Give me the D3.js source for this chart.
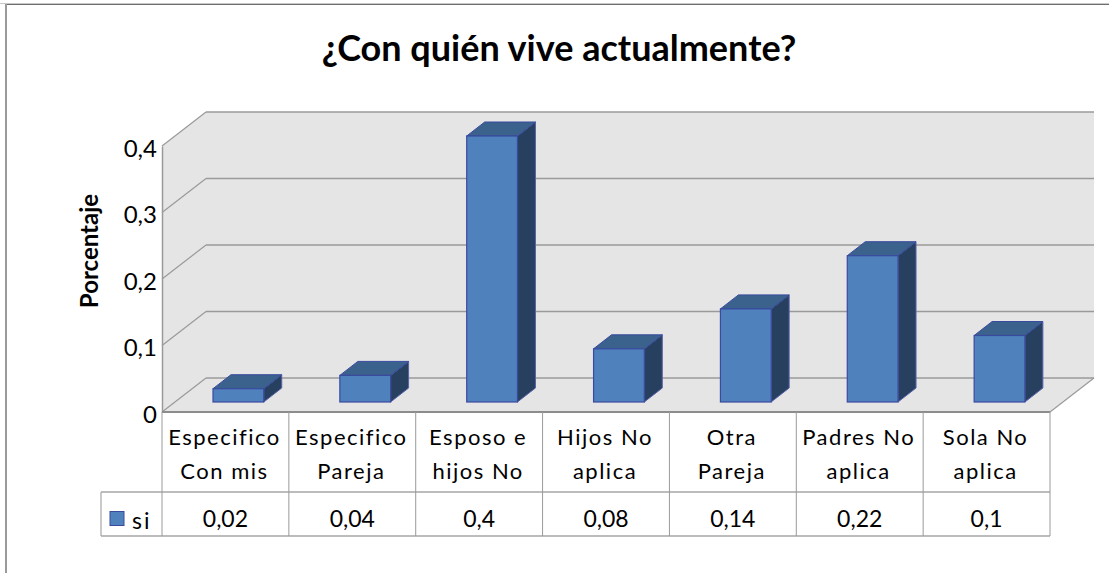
<!DOCTYPE html>
<html>
<head>
<meta charset="utf-8">
<script src="https://cdn.jsdelivr.net/npm/d3@7"></script>
<style>
html, body { margin: 0; padding: 0; background: #fff; }
svg { display: block; }
text { font-family: Lato, "Open Sans", sans-serif; fill: #000; }
</style>
</head>
<body>
<svg></svg>
<script>
var categories = [
    ["Especifico", "Con mis"],
    ["Especifico", "Pareja"],
    ["Esposo e", "hijos No"],
    ["Hijos No", "aplica"],
    ["Otra", "Pareja"],
    ["Padres No", "aplica"],
    ["Sola No", "aplica"]
];
var values = [0.02, 0.04, 0.4, 0.08, 0.14, 0.22, 0.1];
var yTicks = [0, 0.1, 0.2, 0.3, 0.4];
var seriesName = "si";
var chartTitle = "¿Con quién vive actualmente?";
var yTitle = "Porcentaje";

window.onload = function() {
    var width = 1109,
        height = 573;

    var svg = d3.select("svg")
        .attr("width", width)
        .attr("height", height);

    function comma(v) { return String(v).replace(".", ","); }

    // front edge of the floor, the back wall is this moved by wallDx/wallDy
    var x = d3.scaleBand().domain(d3.range(categories.length)).range([162, 1050]);
    var y = d3.scaleLinear().domain([0, 0.4]).range([412, 146]);
    var wallDx = 44, wallDy = -34;
    var barDx = 18, barDy = -14, barLift = 10;
    var barW = x.bandwidth() * 0.4, barOff = x.bandwidth() * 0.402;
    var grid = "#9a9a9a", tableLine = "#a6a6a6";

    function pts(a) { return a.map(function(p) { return p.join(","); }).join(" "); }

    // chart frame
    svg.append("rect").attr("x", 0).attr("y", 3).attr("width", width).attr("height", 1).attr("fill", "#c8c8c8");
    svg.append("rect").attr("x", 5).attr("y", 4).attr("width", width - 5).attr("height", 1).attr("fill", "#6e6e6e");
    svg.append("rect").attr("x", 5).attr("y", 4).attr("width", 2).attr("height", height).attr("fill", "#9a9a9a");

    svg.append("text")
        .attr("x", 559).attr("y", 61)
        .attr("text-anchor", "middle")
        .style("font-size", "36px").style("font-weight", "bold")
        .text(chartTitle);

    // walls and floor
    var x0 = x.range()[0], x1 = x.range()[1], y0 = y(0), yTop = y(0.4);
    svg.append("polygon").attr("fill", "#e5e5e5")
        .attr("points", pts([[x0, yTop], [x0 + wallDx, yTop + wallDy], [x1 + wallDx, yTop + wallDy], [x1 + wallDx, y0 + wallDy], [x1, y0], [x0, y0]]));

    svg.selectAll(".grid-back").data(yTicks).enter().append("line")
        .attr("x1", x0 + wallDx).attr("x2", x1 + wallDx)
        .attr("y1", function(d) { return y(d) + wallDy; })
        .attr("y2", function(d) { return y(d) + wallDy; })
        .attr("stroke", grid).attr("stroke-width", 1.5);
    svg.selectAll(".grid-side").data(yTicks).enter().append("line")
        .attr("x1", x0).attr("x2", x0 + wallDx)
        .attr("y1", function(d) { return y(d); })
        .attr("y2", function(d) { return y(d) + wallDy; })
        .attr("stroke", grid).attr("stroke-width", 1.2);
    svg.append("line")
        .attr("x1", x1).attr("y1", y0).attr("x2", x1 + wallDx).attr("y2", y0 + wallDy)
        .attr("stroke", grid).attr("stroke-width", 1.2);

    // y axis
    var axis = svg.append("g")
        .attr("transform", "translate(" + x0 + ",0)")
        .call(d3.axisLeft(y).tickValues(yTicks).tickFormat(comma).tickSize(0).tickPadding(5));
    axis.select(".domain").attr("stroke", grid).attr("stroke-width", 1.5);
    axis.selectAll("text")
        .attr("dy", "0.42em")
        .style("font-size", "24px")
        .style("font-family", "Lato, sans-serif");

    svg.append("text")
        .attr("transform", "translate(98,251) rotate(-90)")
        .attr("text-anchor", "middle")
        .style("font-size", "24px").style("font-weight", "bold")
        .text(yTitle);

    // bars
    var bars = svg.selectAll(".bar").data(values).enter().append("g").attr("class", "bar");
    var barStroke = "#3a4a9f";
    bars.append("polygon").attr("fill", "#274060").attr("stroke", "#5a62ad").attr("stroke-width", 1)
        .attr("points", function(d, i) {
            var l = x(i) + barOff + barW, t = y(d) - barLift, b = y(0) - barLift;
            return pts([[l, t], [l + barDx, t + barDy], [l + barDx, b + barDy], [l, b]]);
        });
    bars.append("polygon").attr("fill", "#3b618d").attr("stroke", barStroke).attr("stroke-width", 1)
        .attr("points", function(d, i) {
            var l = x(i) + barOff, t = y(d) - barLift;
            return pts([[l, t], [l + barDx, t + barDy], [l + barW + barDx, t + barDy], [l + barW, t]]);
        });
    bars.append("rect").attr("fill", "#4f81bd").attr("stroke", barStroke).attr("stroke-width", 1.2)
        .attr("x", function(d, i) { return x(i) + barOff; })
        .attr("y", function(d) { return y(d) - barLift; })
        .attr("width", barW)
        .attr("height", function(d) { return y(0) - y(d); });

    // data table
    var rowTop = 492, rowBottom = 536, legendLeft = 101;
    svg.append("line").attr("x1", x0).attr("x2", x1).attr("y1", y0).attr("y2", y0)
        .attr("stroke", "#8c8c8c").attr("stroke-width", 2);
    [rowTop, rowBottom].forEach(function(r) {
        svg.append("line").attr("x1", legendLeft).attr("x2", x1).attr("y1", r).attr("y2", r)
            .attr("stroke", tableLine).attr("stroke-width", 1.5);
    });
    svg.append("line").attr("x1", legendLeft).attr("x2", legendLeft).attr("y1", rowTop).attr("y2", rowBottom)
        .attr("stroke", tableLine).attr("stroke-width", 1.2);
    svg.selectAll(".cell-line").data(d3.range(categories.length + 1)).enter().append("line")
        .attr("x1", function(i) { return x0 + i * x.step(); })
        .attr("x2", function(i) { return x0 + i * x.step(); })
        .attr("y1", y0).attr("y2", rowBottom)
        .attr("stroke", "#9a9a9a").attr("stroke-width", 1);

    var labels = svg.selectAll(".cat").data(categories).enter().append("g").attr("class", "cat");
    [0, 1].forEach(function(line) {
        labels.append("text")
            .attr("x", function(d, i) { return x(i) + x.bandwidth() / 2 - 1; })
            .attr("y", 445 + line * 34)
            .attr("text-anchor", "middle")
            .style("font-size", "22px").style("letter-spacing", "1.5px")
            .text(function(d) { return d[line]; });
    });

    svg.selectAll(".val").data(values).enter().append("text")
        .attr("x", function(d, i) { return x(i) + x.bandwidth() / 2; })
        .attr("y", 527)
        .attr("text-anchor", "middle")
        .style("font-size", "23px")
        .text(comma);

    svg.append("rect").attr("x", 110).attr("y", 511.5).attr("width", 14).attr("height", 14)
        .attr("fill", "#4f81bd").attr("stroke", barStroke);
    svg.append("text").attr("x", 132).attr("y", 529)
        .style("font-size", "23px").style("letter-spacing", "2px")
        .text(seriesName);
};
</script>
</body>
</html>
